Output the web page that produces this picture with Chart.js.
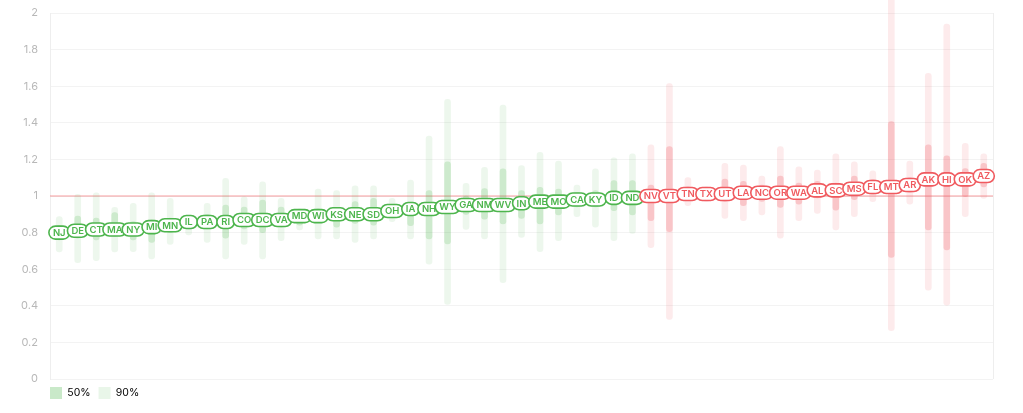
<!DOCTYPE html>
<html>
<head>
<meta charset="utf-8">
<script src="https://cdn.jsdelivr.net/npm/chart.js@4/dist/chart.umd.min.js"></script>
<style>
  html, body { margin: 0; padding: 0; background: #fff; }
  #wrap { width: 1023px; height: 413px; }
</style>
</head>
<body>
<div id="wrap"><canvas id="rtChart" width="1023" height="413"></canvas></div>
<script>
// states sorted by median Rt
var states = ['NJ','DE','CT','MA','NY','MI','MN','IL','PA','RI','CO','DC','VA','MD','WI','KS','NE','SD','OH','IA',
  'NH','WY','GA','NM','WV','IN','ME','MO','CA','KY','ID','ND','NV','VT','TN','TX','UT','LA','NC','OR',
  'WA','AL','SC','MS','FL','MT','AR','AK','HI','OK','AZ'];
var median = [0.80,0.81,0.817,0.817,0.817,0.83,0.84,0.858,0.858,0.858,0.869,0.869,0.869,0.89,0.89,0.90,0.90,0.90,0.918,0.929,
  0.929,0.94,0.951,0.951,0.951,0.96,0.969,0.969,0.981,0.981,0.99,0.99,1.0,1.0,1.011,1.011,1.011,1.018,1.018,1.018,
  1.018,1.031,1.031,1.04,1.049,1.049,1.06,1.091,1.091,1.091,1.109];
var lo90 = [0.695,0.636,0.646,0.694,0.696,0.656,0.736,0.787,0.747,0.656,0.736,0.656,0.756,0.814,0.765,0.765,0.747,0.765,0.86,0.765,
  0.628,0.408,0.817,0.765,0.526,0.774,0.696,0.756,0.887,0.829,0.756,0.796,0.717,0.326,0.947,0.97,0.878,0.865,0.896,0.769,
  0.865,0.905,0.814,0.887,0.969,0.264,0.956,0.486,0.404,0.887,0.987];
var hi90 = [0.887,1.009,1.018,0.938,0.96,1.018,0.987,0.89,0.96,1.097,0.996,1.078,0.987,0.93,1.038,1.029,1.056,1.056,0.987,1.087,
  1.328,1.528,1.069,1.156,1.497,1.166,1.239,1.191,1.06,1.148,1.209,1.23,1.279,1.615,1.1,1.05,1.178,1.169,1.109,1.27,
  1.16,1.142,1.23,1.187,1.138,2.2,1.191,1.67,1.94,1.288,1.23];
var lo50 = [0.76,0.77,0.76,0.78,0.76,0.747,0.80,0.82,0.82,0.77,0.82,0.80,0.83,0.84,0.86,0.83,0.85,0.84,0.88,0.838,
  0.765,0.738,0.90,0.874,0.847,0.878,0.847,0.896,0.94,0.94,0.92,0.896,0.865,0.805,0.98,0.99,0.97,0.947,0.97,0.938,
  0.956,0.99,0.923,0.98,1.01,0.665,1.02,0.814,0.705,0.996,1.05];
var hi50 = [0.84,0.89,0.88,0.91,0.86,0.87,0.88,0.88,0.90,0.95,0.94,0.978,0.94,0.92,0.93,0.93,0.969,0.987,0.95,0.96,
  1.029,1.187,1.00,1.04,1.148,1.03,1.047,1.038,1.02,1.03,1.084,1.084,1.06,1.27,1.05,1.03,1.093,1.08,1.06,1.109,
  1.07,1.08,1.07,1.109,1.09,1.406,1.10,1.279,1.22,1.15,1.178];
var yTicks = [0,0.2,0.4,0.6,0.8,1,1.2,1.4,1.6,1.8,2];

var GREEN = '#4db54d';
var RED = '#f05a5f';

function isUp(i) { return median[i] >= 1; }

var range50 = states.map(function (s, i) { return [lo50[i], hi50[i]]; });
var range90 = states.map(function (s, i) { return [lo90[i], hi90[i]]; });
var col50 = states.map(function (s, i) { return isUp(i) ? 'rgba(240,90,100,0.26)' : 'rgba(77,181,77,0.2)'; });
var col90 = states.map(function (s, i) { return isUp(i) ? 'rgba(240,90,100,0.12)' : 'rgba(77,181,77,0.1)'; });

function roundRect(ctx, x, y, w, h, r) {
  ctx.beginPath();
  ctx.moveTo(x + r, y);
  ctx.lineTo(x + w - r, y);
  ctx.arc(x + w - r, y + r, r, -Math.PI / 2, Math.PI / 2);
  ctx.lineTo(x + r, y + h);
  ctx.arc(x + r, y + r, r, Math.PI / 2, Math.PI * 1.5);
  ctx.closePath();
}

var rtPlugin = {
  id: 'rtPlugin',
  afterLayout: function (chart) {
    chart.legend.left -= chart.options.plugins.legend.labels.padding;
  },
  beforeDatasetsDraw: function (chart) {
    var ctx = chart.ctx, a = chart.chartArea, y = chart.scales.y;
    ctx.save();
    ctx.strokeStyle = '#eeeeee';
    ctx.lineWidth = 1;
    ctx.beginPath();
    ctx.moveTo(a.right + 0.5, a.top);
    ctx.lineTo(a.right + 0.5, a.bottom);
    ctx.stroke();
    var py = y.getPixelForValue(1);
    ctx.strokeStyle = 'rgba(240,90,95,0.4)';
    ctx.lineWidth = 1.5;
    ctx.beginPath();
    ctx.moveTo(a.left, py);
    ctx.lineTo(a.right, py);
    ctx.stroke();
    ctx.restore();
  },
  afterDatasetsDraw: function (chart) {
    var ctx = chart.ctx, xs = chart.scales.x, ys = chart.scales.y;
    ctx.save();
    ctx.font = '600 9.5px Inter, "Open Sans", sans-serif';
    ctx.textAlign = 'center';
    ctx.textBaseline = 'middle';
    states.forEach(function (s, i) {
      var cx = xs.getPixelForValue(i);
      var cy = ys.getPixelForValue(median[i]);
      var w = Math.max(ctx.measureText(s).width + 8, 17.5);
      var h = 13;
      var c = isUp(i) ? RED : GREEN;
      roundRect(ctx, cx - w / 2, cy - h / 2, w, h, h / 2);
      ctx.fillStyle = '#fff';
      ctx.fill();
      ctx.lineWidth = 1.6;
      ctx.strokeStyle = c;
      ctx.stroke();
      ctx.fillStyle = c;
      ctx.fillText(s, cx, cy + 0.5);
    });
    ctx.restore();
  }
};

var ctx = document.getElementById('rtChart').getContext('2d');
var chart = new Chart(ctx, {
  type: 'bar',
  data: {
    labels: states,
    datasets: [{
      label: '50%',
      data: range50,
      backgroundColor: col50,
      grouped: false,
      barThickness: 6,
      borderRadius: 3,
      borderSkipped: false,
      clip: false
    }, {
      label: '90%',
      data: range90,
      backgroundColor: col90,
      grouped: false,
      barThickness: 6,
      borderRadius: 3,
      borderSkipped: false,
      clip: false
    }]
  },
  options: {
    responsive: false,
    animation: false,
    events: [],
    layout: { padding: { left: 0, right: 30, top: 13, bottom: 4 } },
    scales: {
      x: { display: false },
      y: {
        min: 0,
        max: 2,
        afterFit: function (s) { s.width = 50; s.paddingTop = 0; s.paddingBottom = 0; },
        afterBuildTicks: function (s) { s.ticks = yTicks.map(function (v) { return { value: v }; }); },
        ticks: {
          padding: 12,
          color: '#b8b8b8',
          font: { family: 'Inter, "Open Sans", sans-serif', size: 11 },
          callback: function (v) { return String(+v.toFixed(1)); }
        },
        grid: { color: '#f3f3f3', drawTicks: false },
        border: { color: '#eeeeee' }
      }
    },
    plugins: {
      tooltip: { enabled: false },
      legend: {
        position: 'bottom',
        align: 'start',
        fullSize: false,
        labels: {
          boxWidth: 12,
          boxHeight: 12,
          padding: 8,
          color: '#bdbdbd',
          font: { family: 'Inter, "Open Sans", sans-serif', size: 10.5 },
          generateLabels: function () {
            return [
              { text: '50%', fillStyle: 'rgba(77,181,77,0.3)', strokeStyle: 'rgba(0,0,0,0)', lineWidth: 0, datasetIndex: 0 },
              { text: '90%', fillStyle: 'rgba(77,181,77,0.12)', strokeStyle: 'rgba(0,0,0,0)', lineWidth: 0, datasetIndex: 1 }
            ];
          }
        }
      }
    }
  },
  plugins: [rtPlugin]
});
</script>
</body>
</html>
